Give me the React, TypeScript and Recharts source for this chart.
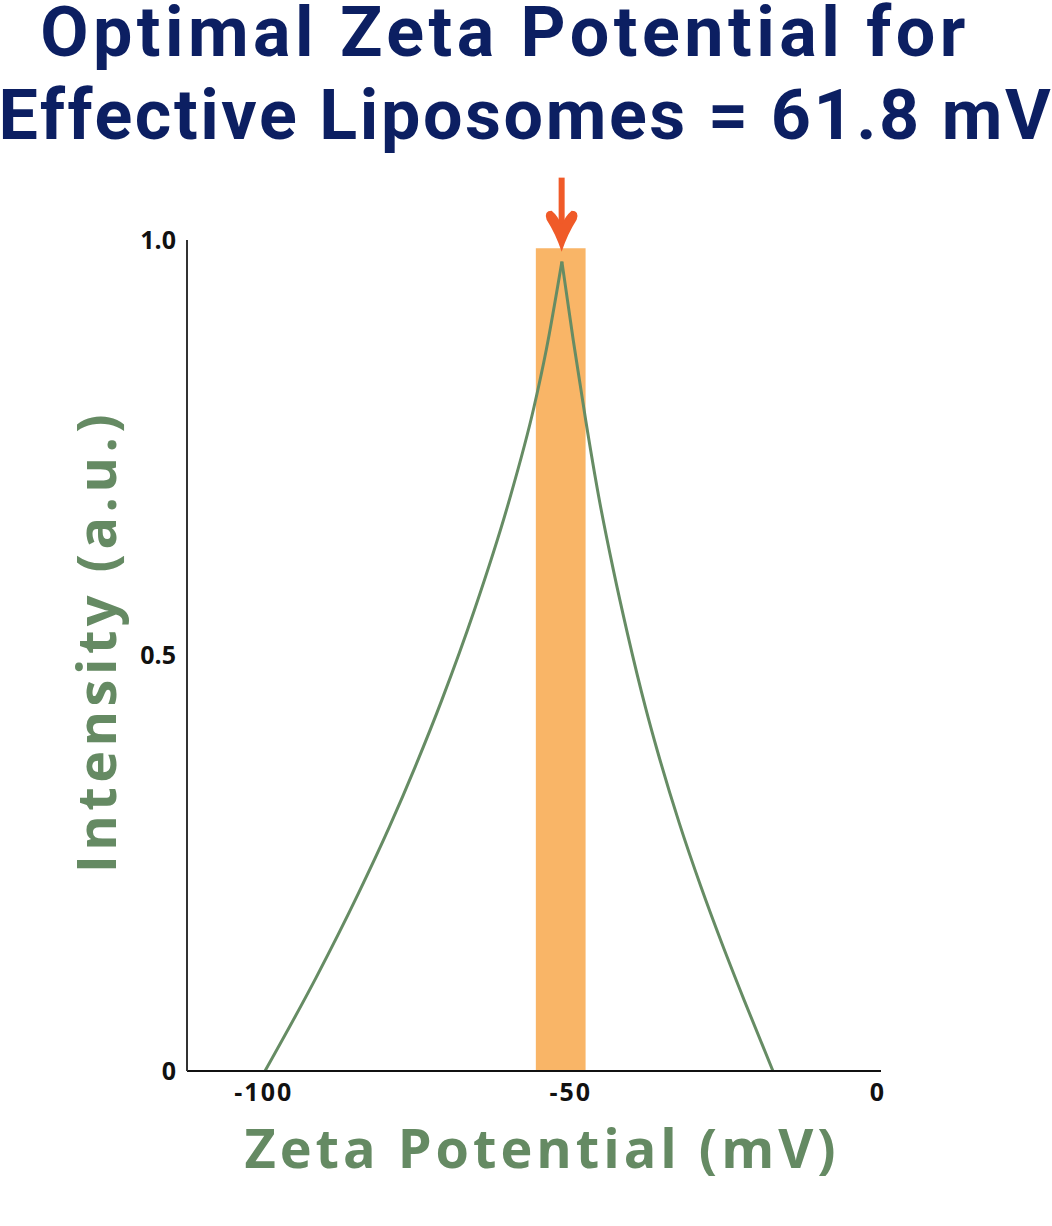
import React from 'react';
import {
  ComposedChart,
  Line,
  XAxis,
  YAxis,
  ReferenceArea,
  ReferenceDot,
} from 'recharts';

// Rising side of the distribution (zeta potential in mV, intensity in a.u.)
const risingZeta = [-99.8, -91.44, -84.57, -79.53, -75.35, -71.03, -65.69, -60.14, -56.0, -54.0, -51.46];
const risingIntensity = [0, 0.113, 0.214, 0.294, 0.366, 0.446, 0.555, 0.684, 0.799, 0.868, 0.974];

// Falling side of the distribution
const fallingZeta = [-51.46, -49.62, -47.58, -45.46, -43.08, -40.8, -37.83, -35.94, -32.33, -28.83, -25.43, -21.77, -17.09];
const fallingIntensity = [0.974, 0.88, 0.783, 0.691, 0.603, 0.527, 0.437, 0.386, 0.298, 0.222, 0.154, 0.085, 0];

// Highlighted optimal band and arrow
const bandZeta = [-55.7, -47.6];
const bandIntensity = [0, 0.99];
const arrowZeta = -51.5;
const arrowIntensity = 0.986;

// Axes
const xTicks = [-100, -50, 0];
const xTickLabels = ['-100', '-50', '0'];
const yTicks = [0, 0.5, 1];
const yTickLabels = ['0', '0.5', '1.0'];
const xDomain = [-112.5, 0.5];
const yDomain = [0, 1];

const titleLines = ['Optimal Zeta Potential for', 'Effective Liposomes = 61.8 mV'];
const xTitle = 'Zeta Potential (mV)';
const yTitle = 'Intensity (a.u.)';

const risingData = risingZeta.map((x, i) => ({ x, y: risingIntensity[i] }));
const fallingData = fallingZeta.map((x, i) => ({ x, y: fallingIntensity[i] }));

const GREEN = '#658a63';
const NAVY = '#0c1f62';

const ArrowShape = (props: any) => {
  const { cx, cy } = props;
  if (cx == null || cy == null) return null;
  const head = `M${cx},${cy} Q${cx - 6},${cy - 18} ${cx - 15},${cy - 32} Q${cx - 18},${cy - 41} ${cx - 10},${cy - 41} Q${cx - 4},${cy - 36} ${cx},${cy - 27} Q${cx + 4},${cy - 36} ${cx + 10},${cy - 41} Q${cx + 18},${cy - 41} ${cx + 15},${cy - 32} Q${cx + 6},${cy - 18} ${cx},${cy} Z`;
  return (
    <g>
      <rect x={cx - 3} y={cy - 74} width={6} height={50} fill="#f05a28" />
      <path d={head} fill="#f05a28" />
    </g>
  );
};

const XTitle = (props: any) => {
  const vb = props.viewBox || {};
  return (
    <text
      x={vb.x + vb.width / 2 + 8}
      y={vb.y + 97}
      textAnchor="middle"
      fill={GREEN}
      style={{ fontFamily: 'Open Sans', fontWeight: 700, fontSize: 54, letterSpacing: 4 }}
    >
      {xTitle}
    </text>
  );
};

const YTitle = (props: any) => {
  const vb = props.viewBox || {};
  const cx = 116;
  const cy = vb.y + vb.height / 2 - 14;
  return (
    <text
      x={cx}
      y={cy}
      transform={`rotate(-90 ${cx} ${cy})`}
      textAnchor="middle"
      fill={GREEN}
      style={{ fontFamily: 'Open Sans', fontWeight: 700, fontSize: 54, letterSpacing: 4.5 }}
    >
      {yTitle}
    </text>
  );
};

export default function App() {
  return (
    <div style={{ position: 'absolute', left: 0, top: 0, width: 1052, height: 1226, background: '#fff' }}>
      <svg
        width={1052}
        height={170}
        style={{ position: 'absolute', left: 0, top: 0 }}
      >
        <text x={505} y={56} textAnchor="middle" fill={NAVY}
          style={{ fontFamily: 'Roboto', fontWeight: 700, fontSize: 70, letterSpacing: 4.5 }}>
          {titleLines[0]}
        </text>
        <text x={526} y={139} textAnchor="middle" fill={NAVY}
          style={{ fontFamily: 'Roboto', fontWeight: 700, fontSize: 70, letterSpacing: 2.6 }}>
          {titleLines[1]}
        </text>
      </svg>
      <ComposedChart
        width={1052}
        height={1226}
        margin={{ top: 240, right: 171, bottom: 95, left: 127 }}
        style={{ position: 'absolute', left: 0, top: 0 }}
      >
        <XAxis
          type="number"
          dataKey="x"
          domain={xDomain}
          ticks={xTicks}
          allowDataOverflow
          tickFormatter={(v: number) => xTickLabels[xTicks.indexOf(v)] ?? String(v)}
          axisLine={{ stroke: '#111', strokeWidth: 2 }}
          tickLine={false}
          tickMargin={6}
          height={60}
          tick={{ fill: '#111', fontFamily: 'Open Sans', fontWeight: 700, fontSize: 25, letterSpacing: 2 }}
          label={<XTitle />}
        />
        <YAxis
          type="number"
          domain={yDomain}
          ticks={yTicks}
          allowDataOverflow
          tickFormatter={(v: number) => yTickLabels[yTicks.indexOf(v)] ?? String(v)}
          axisLine={{ stroke: '#333', strokeWidth: 2 }}
          tickLine={false}
          tickMargin={5}
          width={60}
          tick={{ fill: '#111', fontFamily: 'Open Sans', fontWeight: 700, fontSize: 25 }}
          label={<YTitle />}
        />
        <ReferenceArea
          x1={bandZeta[0]}
          x2={bandZeta[1]}
          y1={bandIntensity[0]}
          y2={bandIntensity[1]}
          fill="#f9b567"
          fillOpacity={1}
          stroke="none"
        />
        <Line
          data={risingData}
          dataKey="y"
          type="monotone"
          stroke="#668c64"
          strokeWidth={3}
          dot={false}
          isAnimationActive={false}
        />
        <Line
          data={fallingData}
          dataKey="y"
          type="monotone"
          stroke="#668c64"
          strokeWidth={3}
          dot={false}
          isAnimationActive={false}
        />
        <ReferenceDot
          x={arrowZeta}
          y={arrowIntensity}
          r={0}
          ifOverflow="visible"
          shape={<ArrowShape />}
        />
      </ComposedChart>
    </div>
  );
}
